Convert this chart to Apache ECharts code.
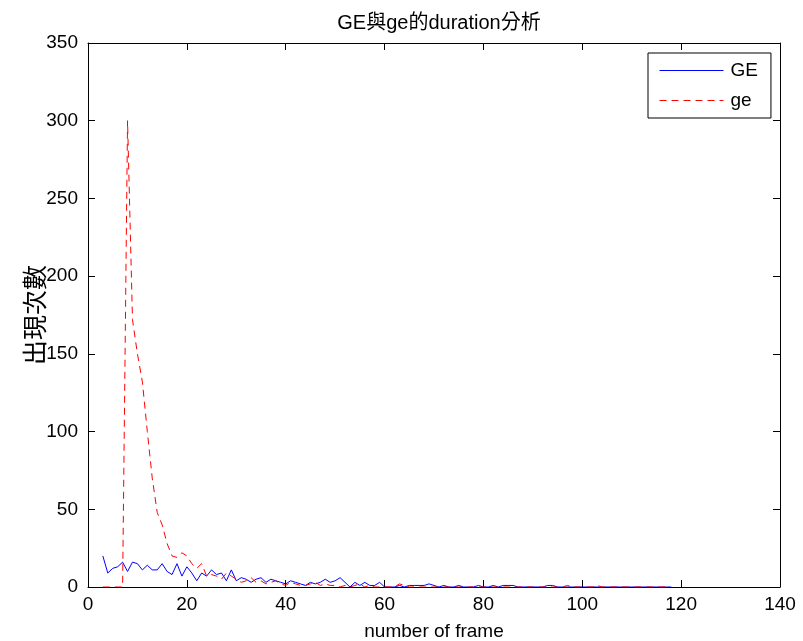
<!DOCTYPE html>
<html>
<head>
<meta charset="utf-8">
<script src="https://cdn.jsdelivr.net/npm/echarts@6/dist/echarts.min.js"></script>
<style>
html,body{margin:0;padding:0;background:#fff;}
#chart{width:803px;height:641px;}
</style>
</head>
<body>
<div id="chart"></div>
<script>
// frames 3..120
var startFrame = 3;
var geUpper = [20,9,12,13,16,10,16,15,11,14,11,11,15,10,8,15,7,13,9,4,9,7,11,8,9,4,11,4,6,5,3,5,6,3,5,4,3,2,
  4,3,2,1,3,2,3,5,3,4,6,3,0,3,1,3,1,1,3,0,0,0,1,0,1,1,1,1,2,1,0,1,0,0,1,0,0,0,1,0,0,1,0,1,1,1,0,0,0,0,0,0,1,1,0,
  0,0,0,0,0,0,0,0,0,0,0,0,0,0,0,0,0,0,0,0,0,0,0];
var geLower = [0,0,0,0,0,300,172,150,132,100,70,48,40,28,20,19,22,20,15,12,15,7,8,7,5,9,7,5,3,4,6,3,4,2,3,4,2,1,
  3,2,1,1,2,3,1,2,1,1,0,1,0,1,2,0,1,0,0,0,0,0,2,1,0,0,0,0,0,0,0,0,0,0,0,0,0,0,0,0,0,0,0,0,0,0,0,0,0,0,0,0,0,0,0,
  0,1,0,0,0,0,0,1,0,0,0,0,0,0,0,0,0,0,0,0,0,0];
var xTicks = [0,20,40,60,80,100,120,140];
var yTicks = [0,50,100,150,200,250,300,350];

function pairs(arr){ return arr.map(function(v,i){ return [startFrame+i, v]; }); }

var chart = echarts.init(document.getElementById('chart'), null, {renderer:'canvas'});
var font = 'Liberation Sans, Arial, Helvetica, sans-serif';
var cjk = 'Liberation Sans, "Noto Sans CJK TC", sans-serif';
var axisCommon = {
  axisLine:{show:true, onZero:false, lineStyle:{color:'#000', width:1}},
  axisTick:{show:true, inside:true, length:7, lineStyle:{color:'#000'}},
  splitLine:{show:false}
};
chart.setOption({
  animation:false,
  backgroundColor:'#fff',
  title:{text:'GE與ge的duration分析', left:434, textAlign:'center', top:8,
    textStyle:{fontFamily:cjk, fontSize:20, fontWeight:'normal', color:'#000'}},
  grid:{left:88, right:23, top:43, bottom:54, containLabel:false, outerBoundsMode:'none'},
  legend:{
    orient:'vertical', left:648, top:53,
    backgroundColor:'#fff', borderColor:'#000', borderWidth:1,
    padding:[8,13,8,11], itemGap:11, itemWidth:64, itemHeight:12,
    itemStyle:{opacity:0}, lineStyle:{width:1},
    textStyle:{fontFamily:font, fontSize:19, color:'#000', padding:[0,0,0,2]},
    data:['GE','ge']
  },
  xAxis:[
    Object.assign({type:'value', min:0, max:140, interval:20, position:'bottom',
      name:'number of frame', nameLocation:'middle', nameGap:35, nameMoveOverlap:false,
      nameTextStyle:{fontFamily:font, fontSize:19, color:'#000'},
      axisLabel:{fontFamily:font, fontSize:19, color:'#000', margin:8,
        formatter:function(v){ return xTicks.indexOf(v)>=0 ? String(v) : ''; }}}, axisCommon),
    Object.assign({type:'value', min:0, max:140, interval:20, position:'top',
      axisLabel:{show:false}}, axisCommon)
  ],
  yAxis:[
    Object.assign({type:'value', min:0, max:350, interval:50, position:'left',
      name:'出現次數', nameLocation:'middle', nameGap:38, nameRotate:90, nameMoveOverlap:false,
      nameTextStyle:{fontFamily:cjk, fontSize:25, color:'#000'},
      axisLabel:{fontFamily:font, fontSize:19, color:'#000', margin:10,
        formatter:function(v){ return yTicks.indexOf(v)>=0 ? String(v) : ''; }}}, axisCommon),
    Object.assign({type:'value', min:0, max:350, interval:50, position:'right',
      axisLabel:{show:false}}, axisCommon)
  ],
  series:[
    {name:'GE', type:'line', data:pairs(geUpper), symbol:'none',
      lineStyle:{color:'#0000ff', width:1}, itemStyle:{color:'#0000ff'}},
    {name:'ge', type:'line', data:pairs(geLower), symbol:'none',
      lineStyle:{color:'#ff0000', width:1, type:[7,5]}, itemStyle:{color:'#ff0000'}}
  ]
});
</script>
</body>
</html>
